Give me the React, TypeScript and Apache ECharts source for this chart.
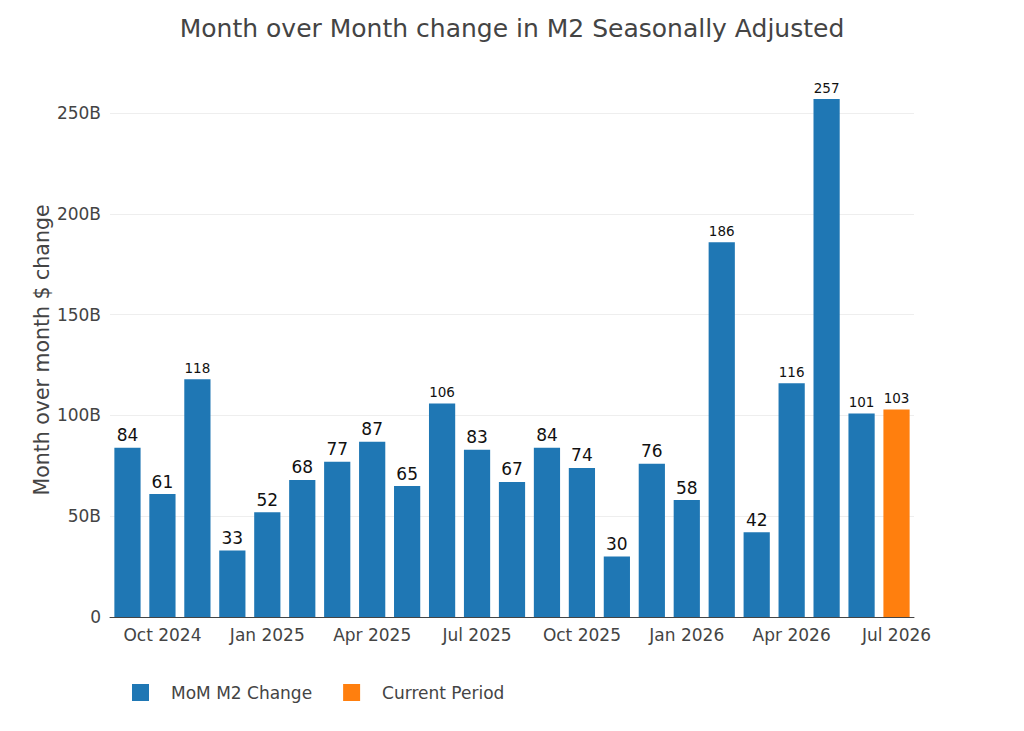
import { useRef, useEffect } from "react";
import * as echarts from "echarts";

const MONTHS = [
  "Sep 2024", "Oct 2024", "Nov 2024", "Dec 2024",
  "Jan 2025", "Feb 2025", "Mar 2025", "Apr 2025", "May 2025", "Jun 2025",
  "Jul 2025", "Aug 2025", "Sep 2025", "Oct 2025", "Nov 2025", "Dec 2025",
  "Jan 2026", "Feb 2026", "Mar 2026", "Apr 2026", "May 2026", "Jun 2026", "Jul 2026",
];
// month over month change, $ billions
const MOM_CHANGE = [84, 61, 118, 33, 52, 68, 77, 87, 65, 106, 83, 67, 84, 74, 30, 76, 58, 186, 42, 116, 257, 101, null];
const CURRENT = [null, null, null, null, null, null, null, null, null, null, null, null, null, null, null, null, null, null, null, null, null, null, 103];
const Y_TICKS = [0, 50, 100, 150, 200, 250];

const FONT = "DejaVu Sans, Verdana, sans-serif";

const withLabel = (vals: (number | null)[]) =>
  vals.map((v) =>
    v == null
      ? null
      : { value: v, label: { fontSize: v >= 100 ? 13.5 : 17 } }
  );

export default function App() {
  const chartRef = useRef<HTMLDivElement>(null);
  useEffect(() => {
    if (!chartRef.current) return;
    const chart = echarts.init(chartRef.current, null, { renderer: "svg" });
    const label = {
      show: true, position: "top" as const, distance: 4, color: "#111",
      fontFamily: FONT, formatter: (p: any) => String(Math.round(p.value)),
    };
    chart.setOption({
      animation: false,
      title: {
        text: "Month over Month change in M2 Seasonally Adjusted",
        left: "center", top: 11,
        textStyle: { color: "#444", fontSize: 25, fontWeight: "normal", fontFamily: FONT },
      },
      grid: { left: 110, right: 110, top: 83, bottom: 114 },
      xAxis: {
        type: "category", data: MONTHS,
        axisLine: { lineStyle: { color: "#444", width: 1 } },
        axisTick: { show: false },
        axisLabel: {
          color: "#444", fontSize: 17, fontFamily: FONT, margin: 9,
          interval: (i: number) => i % 3 === 1,
        },
      },
      yAxis: {
        type: "value", min: 0, max: 265, interval: 50,
        name: "Month over month $ change", nameLocation: "middle", nameGap: 58,
        nameMoveOverlap: false,
        nameTextStyle: { color: "#444", fontSize: 20.5, fontFamily: FONT },
        axisLine: { show: false }, axisTick: { show: false },
        axisLabel: {
          color: "#444", fontSize: 17, fontFamily: FONT, margin: 9,
          formatter: (v: number) => (Y_TICKS.includes(v) ? (v === 0 ? "0" : v + "B") : ""),
        },
        splitLine: {
          lineStyle: { color: ["#eee", "#eee", "#eee", "#eee", "#eee", "#eee", "rgba(0,0,0,0)"] },
        },
      },
      legend: {
        bottom: 25, left: 127, itemWidth: 17, itemHeight: 17, itemGap: 31,
        icon: "rect",
        textStyle: { color: "#444", fontSize: 17, fontFamily: FONT, padding: [0, 0, 0, 17] },
        data: ["MoM M2 Change", "Current Period"],
      },
      series: [
        {
          name: "MoM M2 Change", type: "bar", data: withLabel(MOM_CHANGE),
          barCategoryGap: "25%", barGap: "-100%",
          itemStyle: { color: "#1f77b4" }, label,
        },
        {
          name: "Current Period", type: "bar", data: withLabel(CURRENT),
          barCategoryGap: "25%", barGap: "-100%",
          itemStyle: { color: "#ff7f0e" }, label,
        },
      ],
    });
    return () => chart.dispose();
  }, []);
  return <div ref={chartRef} style={{ width: 1024, height: 731, margin: -8 }} />;
}
